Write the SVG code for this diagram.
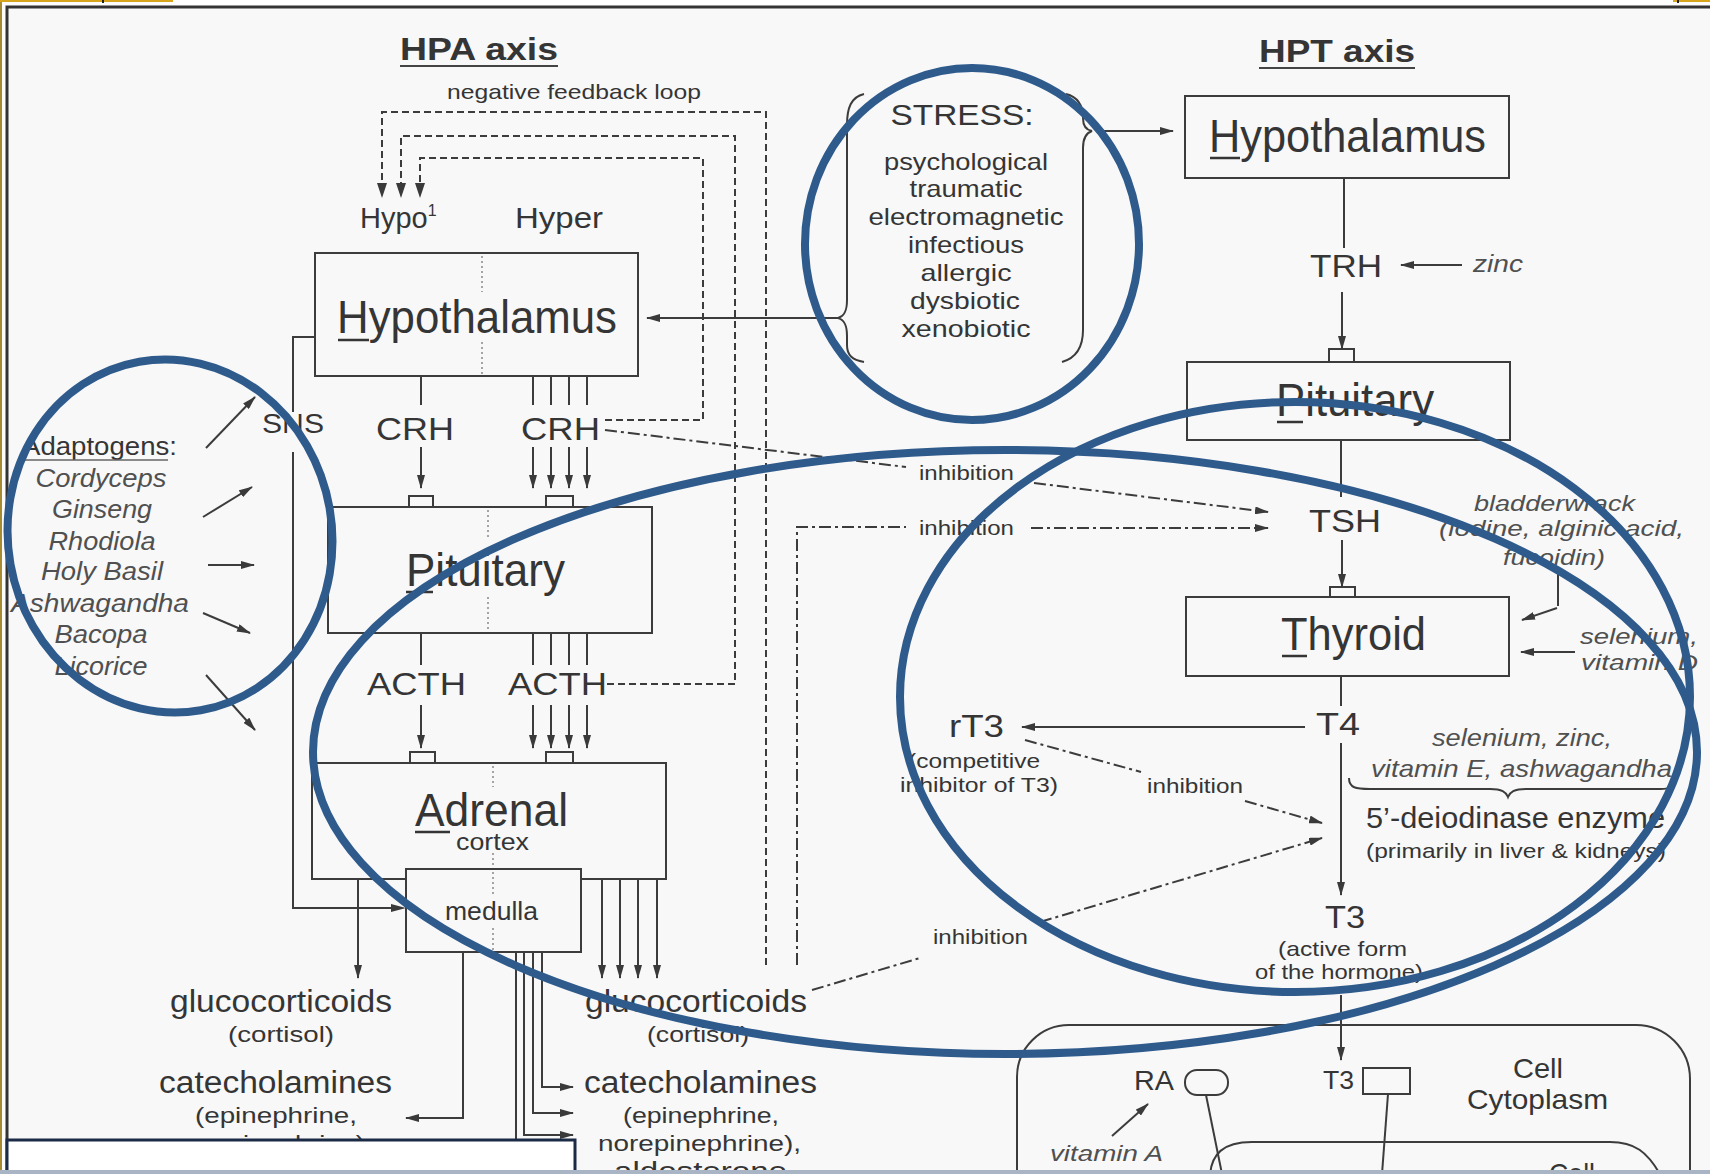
<svg xmlns="http://www.w3.org/2000/svg" width="1710" height="1174" viewBox="0 0 1710 1174">
<defs>
<marker id="ah" viewBox="0 0 14 8" refX="13" refY="4" markerWidth="14" markerHeight="8" markerUnits="userSpaceOnUse" orient="auto"><path d="M0,0 L14,4 L0,8 z" fill="#3a3a3a"/></marker>
</defs>
<style>
.t{font-family:"Liberation Sans",Arial,sans-serif;fill:#353535}
.it{font-style:italic;fill:#505050}
.b{font-weight:bold}
.ln{stroke:#3c3c3c;stroke-width:2;fill:none}
.box{stroke:#3c3c3c;stroke-width:2;fill:#f8f8f8}
.dash{stroke:#3c3c3c;stroke-width:2;fill:none;stroke-dasharray:7 4}
.dd{stroke:#3c3c3c;stroke-width:2;fill:none;stroke-dasharray:12 4 3 4}
.dot{stroke:#777;stroke-width:1.3;stroke-dasharray:2 3;fill:none}
.blue{fill:none;stroke:#2f5b8c;stroke-width:8}
.ar{marker-end:url(#ah)}
</style>
<rect x="0" y="0" width="1710" height="1174" fill="#f8f8f8"/>
<rect x="0" y="0" width="7" height="1174" fill="#fdfdfd"/>
<rect x="0" y="0" width="1710" height="6" fill="#fdfdfd"/>
<rect x="0" y="0" width="2" height="1170" fill="#a88a30"/>
<rect x="0" y="0" width="173" height="2" fill="#d6a51c"/>
<rect x="102" y="0" width="2" height="3" fill="#222"/>
<rect x="1673" y="0" width="37" height="2" fill="#d6a51c"/>
<rect x="1677" y="0" width="2" height="3" fill="#222"/>
<path d="M7,1170 V7 H1710" fill="none" stroke="#333" stroke-width="3"/>

<g id="titles">
<text class="t b" x="400" y="60" font-size="31" textLength="158" lengthAdjust="spacingAndGlyphs">HPA axis</text>
<line x1="400" y1="66" x2="558" y2="66" stroke="#444" stroke-width="2"/>
<text class="t b" x="1259" y="62" font-size="31" textLength="156" lengthAdjust="spacingAndGlyphs">HPT axis</text>
<line x1="1259" y1="68" x2="1415" y2="68" stroke="#444" stroke-width="2"/>
<text class="t" x="447" y="99" font-size="21" textLength="254" lengthAdjust="spacingAndGlyphs">negative feedback loop</text>
<text class="t" x="360" y="228" font-size="29">Hypo<tspan font-size="16" dy="-12">1</tspan></text>
<text class="t" x="515" y="228" font-size="29" textLength="88" lengthAdjust="spacingAndGlyphs">Hyper</text>
</g>

<g id="connectors">
<path class="dash" d="M766,965 V112 H382 V194"/>
<path class="dash" d="M607,684 H735 V136 H401 V194"/>
<path class="dash" d="M605,420 H703 V158 H420 V194"/>
<path d="M377,183 L382,198 L387,183 z M396,183 L401,198 L406,183 z M415,183 L420,198 L425,183 z" fill="#3a3a3a"/>
<path class="ln" d="M315,337 H293 V412 M293,452 V908 H402" />
<path d="M391,904 L406,908 L391,912 z" fill="#3a3a3a"/>
<path class="ln" d="M421,376 V405 M533,376 V405 M551,376 V405 M569,376 V405 M587,376 V405"/>
<path class="ln ar" d="M421,447 V488"/><path class="ln ar" d="M533,447 V488"/><path class="ln ar" d="M551,447 V488"/><path class="ln ar" d="M569,447 V488"/><path class="ln ar" d="M587,447 V488"/>
<path class="ln" d="M421,633 V665 M533,633 V665 M551,633 V665 M569,633 V665 M587,633 V665"/>
<path class="ln ar" d="M421,705 V748"/><path class="ln ar" d="M533,705 V748"/><path class="ln ar" d="M551,705 V748"/><path class="ln ar" d="M569,705 V748"/><path class="ln ar" d="M587,705 V748"/>
<path class="ln ar" d="M358,879 V978"/>
<path class="ln ar" d="M602,879 V978"/><path class="ln ar" d="M620,879 V978"/><path class="ln ar" d="M638,879 V978"/><path class="ln ar" d="M657,879 V978"/>
<path class="ln ar" d="M463,952 V1118 H406"/>
<path class="ln ar" d="M542,952 V1087 H573"/>
<path class="ln ar" d="M533,952 V1113 H573"/>
<path class="ln ar" d="M524,952 V1135 H573"/>
<path class="ln" d="M516,952 V1174"/>
<path class="ln ar" d="M840,318 H647"/>
<path class="ln ar" d="M1096,131 H1173"/>
<path class="ln" d="M864,94 C851,97 847,108 847,125 L847,300 C847,310 845,316 838,318 C845,320 847,326 847,336 L847,345 C847,355 852,360 864,362"/>
<path class="ln" d="M1066,94 C1078,97 1083,106 1083,118 C1083,126 1086,130 1092,131 C1086,133 1083,138 1083,148 L1083,330 C1083,348 1076,358 1062,362"/>
<path class="ln ar" d="M206,448 L255,397" stroke-width="1.8"/>
<path class="ln ar" d="M203,517 L252,487" stroke-width="1.8"/>
<path class="ln ar" d="M208,565 L254,565" stroke-width="1.8"/>
<path class="ln ar" d="M203,613 L250,633" stroke-width="1.8"/>
<path class="ln ar" d="M206,675 L255,730" stroke-width="1.8"/>
<path class="dd" d="M605,430 L906,467"/>
<path class="dd ar" d="M1034,483 L1268,512"/>
<path class="dd" d="M797,965 V527 H906"/>
<path class="dd ar" d="M1031,528 H1268"/>
<path class="dd" d="M1025,740 L1141,772"/>
<path class="dd ar" d="M1245,801 L1322,823"/>
<path class="dd" d="M812,990 L920,958"/>
<path class="dd ar" d="M1040,922 L1322,838"/>
<path class="ln" d="M1344,178 V248"/>
<path class="ln ar" d="M1462,265 H1401"/>
<path class="ln ar" d="M1342,292 V349"/>
<path class="ln" d="M1341,440 V497"/>
<path class="ln ar" d="M1342,540 V587"/>
<path class="ln" d="M1341,676 V706"/>
<path class="ln ar" d="M1305,727 H1022"/>
<path class="ln ar" d="M1341,743 V895"/>
<path class="ln ar" d="M1341,995 V1060"/>
<path class="ln" d="M1558,572 V606"/>
<path class="ln ar" d="M1557,608 L1522,620"/>
<path class="ln ar" d="M1575,652 H1521"/>
<path class="ln" d="M1349,778 C1349,788 1356,789 1370,789 L1490,789 C1502,789 1506,792 1508,797 C1510,792 1514,789 1526,789 L1660,789 C1672,789 1676,786 1676,778"/>
<path class="ln" d="M1206,1095 L1222,1174"/>
<path class="ln" d="M1388,1094 L1382,1174"/>
<path class="ln ar" d="M1112,1136 L1148,1104" stroke-width="1.8"/>
</g>

<g id="hpa-hypothalamus">
<rect class="box" x="315" y="253" width="323" height="123"/>
<path class="dot" d="M482,256 V292 M482,342 V374"/>
<text class="t" x="337" y="333" font-size="46" textLength="280" lengthAdjust="spacingAndGlyphs">Hypothalamus</text>
<line x1="338" y1="340" x2="369" y2="340" stroke="#353535" stroke-width="2.5"/>
</g>
<g id="crh">
<text class="t" x="376" y="440" font-size="32" textLength="78" lengthAdjust="spacingAndGlyphs">CRH</text>
<text class="t" x="521" y="440" font-size="32" textLength="79" lengthAdjust="spacingAndGlyphs">CRH</text>
<text class="t" x="262" y="433" font-size="27" textLength="62" lengthAdjust="spacingAndGlyphs">SNS</text>
</g>
<g id="hpa-pituitary">
<rect class="box" x="409" y="496" width="24" height="11"/>
<rect class="box" x="546" y="496" width="27" height="11"/>
<rect class="box" x="328" y="507" width="324" height="126"/>
<path class="dot" d="M488,510 V540 M488,597 V630"/>
<text class="t" x="406" y="586" font-size="46" textLength="159" lengthAdjust="spacingAndGlyphs">Pituitary</text>
<line x1="406" y1="592" x2="433" y2="592" stroke="#353535" stroke-width="2.5"/>
</g>
<g id="acth">
<text class="t" x="367" y="695" font-size="32" textLength="99" lengthAdjust="spacingAndGlyphs">ACTH</text>
<text class="t" x="508" y="695" font-size="32" textLength="99" lengthAdjust="spacingAndGlyphs">ACTH</text>
</g>
<g id="adrenal">
<rect class="box" x="410" y="752" width="25" height="11"/>
<rect class="box" x="546" y="752" width="27" height="11"/>
<rect class="box" x="312" y="763" width="354" height="116"/>
<path class="dot" d="M493,766 V787 M493,853 V868"/>
<text class="t" x="415" y="826" font-size="46" textLength="153" lengthAdjust="spacingAndGlyphs">Adrenal</text>
<line x1="415" y1="832" x2="450" y2="832" stroke="#353535" stroke-width="2.5"/>
<text class="t" x="456" y="850" font-size="23" textLength="73" lengthAdjust="spacingAndGlyphs">cortex</text>
</g>
<g id="medulla">
<rect class="box" x="406" y="869" width="175" height="83"/>
<path class="dot" d="M493,872 V895 M493,928 V950"/>
<text class="t" x="445" y="920" font-size="26" textLength="93" lengthAdjust="spacingAndGlyphs">medulla</text>
</g>
<g id="outputs">
<text class="t" x="170" y="1012" font-size="31" textLength="222" lengthAdjust="spacingAndGlyphs">glucocorticoids</text>
<text class="t" x="228" y="1042" font-size="22" textLength="106" lengthAdjust="spacingAndGlyphs">(cortisol)</text>
<text class="t" x="585" y="1012" font-size="31" textLength="222" lengthAdjust="spacingAndGlyphs">glucocorticoids</text>
<text class="t" x="647" y="1042" font-size="22" textLength="102" lengthAdjust="spacingAndGlyphs">(cortisol)</text>
<text class="t" x="159" y="1093" font-size="31" textLength="233" lengthAdjust="spacingAndGlyphs">catecholamines</text>
<text class="t" x="195" y="1123" font-size="22" textLength="162" lengthAdjust="spacingAndGlyphs">(epinephrine,</text>
<text class="t" x="173" y="1151" font-size="22" textLength="192" lengthAdjust="spacingAndGlyphs">norepinephrine)</text>
<text class="t" x="584" y="1093" font-size="31" textLength="233" lengthAdjust="spacingAndGlyphs">catecholamines</text>
<text class="t" x="623" y="1123" font-size="22" textLength="156" lengthAdjust="spacingAndGlyphs">(epinephrine,</text>
<text class="t" x="598" y="1151" font-size="22" textLength="203" lengthAdjust="spacingAndGlyphs">norepinephrine),</text>
<text class="t" x="614" y="1180" font-size="26" textLength="173" lengthAdjust="spacingAndGlyphs">aldosterone</text>
</g>
<g id="adaptogens">
<text class="t" x="22" y="455" font-size="25" textLength="155" lengthAdjust="spacingAndGlyphs" fill="#555">Adaptogens:</text>
<line x1="22" y1="460" x2="168" y2="460" stroke="#666" stroke-width="1.5"/>
<text class="t it" x="101" y="487" font-size="25" text-anchor="middle" textLength="131" lengthAdjust="spacingAndGlyphs">Cordyceps</text>
<text class="t it" x="102" y="518" font-size="25" text-anchor="middle" textLength="100" lengthAdjust="spacingAndGlyphs">Ginseng</text>
<text class="t it" x="102" y="550" font-size="25" text-anchor="middle" textLength="107" lengthAdjust="spacingAndGlyphs">Rhodiola</text>
<text class="t it" x="102" y="580" font-size="25" text-anchor="middle" textLength="122" lengthAdjust="spacingAndGlyphs">Holy Basil</text>
<text class="t it" x="100" y="612" font-size="25" text-anchor="middle" textLength="178" lengthAdjust="spacingAndGlyphs">Ashwagandha</text>
<text class="t it" x="101" y="643" font-size="25" text-anchor="middle" textLength="93" lengthAdjust="spacingAndGlyphs">Bacopa</text>
<text class="t it" x="101" y="675" font-size="25" text-anchor="middle" textLength="93" lengthAdjust="spacingAndGlyphs">Licorice</text>
</g>
<g id="stress">
<text class="t" x="962" y="125" font-size="30" text-anchor="middle" textLength="143" lengthAdjust="spacingAndGlyphs">STRESS:</text>
<text class="t" x="966" y="170" font-size="24" text-anchor="middle" textLength="164" lengthAdjust="spacingAndGlyphs">psychological</text>
<text class="t" x="966" y="197" font-size="24" text-anchor="middle" textLength="113" lengthAdjust="spacingAndGlyphs">traumatic</text>
<text class="t" x="966" y="225" font-size="24" text-anchor="middle" textLength="195" lengthAdjust="spacingAndGlyphs">electromagnetic</text>
<text class="t" x="966" y="253" font-size="24" text-anchor="middle" textLength="116" lengthAdjust="spacingAndGlyphs">infectious</text>
<text class="t" x="966" y="281" font-size="24" text-anchor="middle" textLength="91" lengthAdjust="spacingAndGlyphs">allergic</text>
<text class="t" x="965" y="309" font-size="24" text-anchor="middle" textLength="110" lengthAdjust="spacingAndGlyphs">dysbiotic</text>
<text class="t" x="966" y="337" font-size="24" text-anchor="middle" textLength="129" lengthAdjust="spacingAndGlyphs">xenobiotic</text>
</g>
<g id="inhibition-labels">
<text class="t" x="919" y="480" font-size="21" textLength="95" lengthAdjust="spacingAndGlyphs">inhibition</text>
<text class="t" x="919" y="535" font-size="21" textLength="95" lengthAdjust="spacingAndGlyphs">inhibition</text>
<text class="t" x="1147" y="793" font-size="21" textLength="96" lengthAdjust="spacingAndGlyphs">inhibition</text>
<text class="t" x="933" y="944" font-size="21" textLength="95" lengthAdjust="spacingAndGlyphs">inhibition</text>
</g>
<g id="hpt-hypothalamus">
<rect class="box" x="1185" y="96" width="324" height="82"/>
<text class="t" x="1209" y="152" font-size="46" textLength="277" lengthAdjust="spacingAndGlyphs">Hypothalamus</text>
<line x1="1210" y1="158" x2="1240" y2="158" stroke="#353535" stroke-width="2.5"/>
</g>
<g id="trh">
<text class="t" x="1310" y="277" font-size="32" textLength="72" lengthAdjust="spacingAndGlyphs">TRH</text>
<text class="t it" x="1473" y="272" font-size="24" textLength="50" lengthAdjust="spacingAndGlyphs">zinc</text>
</g>
<g id="hpt-pituitary">
<rect class="box" x="1329" y="349" width="25" height="13"/>
<rect class="box" x="1187" y="362" width="323" height="78"/>
<text class="t" x="1276" y="416" font-size="46" textLength="158" lengthAdjust="spacingAndGlyphs">Pituitary</text>
<line x1="1277" y1="422" x2="1303" y2="422" stroke="#353535" stroke-width="2.5"/>
</g>
<g id="tsh">
<text class="t" x="1309" y="532" font-size="32" textLength="72" lengthAdjust="spacingAndGlyphs">TSH</text>
<text class="t it" x="1474" y="511" font-size="22" textLength="161" lengthAdjust="spacingAndGlyphs">bladderwrack</text>
<text class="t it" x="1439" y="536" font-size="22" textLength="245" lengthAdjust="spacingAndGlyphs">(iodine, alginic acid,</text>
<text class="t it" x="1503" y="565" font-size="22" textLength="102" lengthAdjust="spacingAndGlyphs">fucoidin)</text>
</g>
<g id="thyroid">
<rect class="box" x="1330" y="587" width="25" height="10"/>
<rect class="box" x="1186" y="597" width="323" height="79"/>
<text class="t" x="1281" y="650" font-size="46" textLength="145" lengthAdjust="spacingAndGlyphs">Thyroid</text>
<line x1="1282" y1="656" x2="1307" y2="656" stroke="#353535" stroke-width="2.5"/>
<text class="t it" x="1580" y="644" font-size="22" textLength="118" lengthAdjust="spacingAndGlyphs">selenium,</text>
<text class="t it" x="1581" y="670" font-size="22" textLength="117" lengthAdjust="spacingAndGlyphs">vitamin D</text>
</g>
<g id="t4">
<text class="t" x="1316" y="735" font-size="32" textLength="44" lengthAdjust="spacingAndGlyphs">T4</text>
</g>
<g id="rt3">
<text class="t" x="949" y="737" font-size="32" textLength="55" lengthAdjust="spacingAndGlyphs">rT3</text>
<text class="t" x="908" y="768" font-size="21" textLength="132" lengthAdjust="spacingAndGlyphs">(competitive</text>
<text class="t" x="900" y="792" font-size="21" textLength="158" lengthAdjust="spacingAndGlyphs">inhibitor of T3)</text>
</g>
<g id="deiodinase">
<text class="t it" x="1432" y="746" font-size="24" textLength="180" lengthAdjust="spacingAndGlyphs">selenium, zinc,</text>
<text class="t it" x="1371" y="777" font-size="24" textLength="301" lengthAdjust="spacingAndGlyphs">vitamin E, ashwagandha</text>
<text class="t" x="1366" y="828" font-size="29" textLength="299" lengthAdjust="spacingAndGlyphs">5’-deiodinase enzyme</text>
<text class="t" x="1366" y="858" font-size="21" textLength="300" lengthAdjust="spacingAndGlyphs">(primarily in liver &amp; kidneys)</text>
</g>
<g id="t3">
<text class="t" x="1325" y="928" font-size="32" textLength="40" lengthAdjust="spacingAndGlyphs">T3</text>
<text class="t" x="1278" y="956" font-size="21" textLength="129" lengthAdjust="spacingAndGlyphs">(active form</text>
<text class="t" x="1255" y="979" font-size="21" textLength="168" lengthAdjust="spacingAndGlyphs">of the hormone)</text>
</g>
<g id="cell">
<path class="ln" d="M1017,1174 V1077 A52,52 0 0 1 1069,1025 H1636 A54,54 0 0 1 1690,1079 V1174"/>
<path class="ln" d="M1210,1174 C1212,1155 1222,1142 1252,1142 H1610 C1635,1142 1647,1152 1660,1174"/>
<text class="t" x="1134" y="1090" font-size="27" textLength="40" lengthAdjust="spacingAndGlyphs">RA</text>
<rect class="box" x="1185" y="1070" width="43" height="25" rx="12"/>
<text class="t it" x="1050" y="1161" font-size="22" textLength="113" lengthAdjust="spacingAndGlyphs">vitamin A</text>
<text class="t" x="1323" y="1089" font-size="25" textLength="31" lengthAdjust="spacingAndGlyphs">T3</text>
<rect class="box" x="1363" y="1068" width="47" height="26"/>
<text class="t" x="1513" y="1078" font-size="28" textLength="50" lengthAdjust="spacingAndGlyphs">Cell</text>
<text class="t" x="1467" y="1109" font-size="28" textLength="141" lengthAdjust="spacingAndGlyphs">Cytoplasm</text>
<text class="t" x="1549" y="1183" font-size="28" textLength="46" lengthAdjust="spacingAndGlyphs">Cell</text>
</g>

<g id="highlights">
<ellipse class="blue" cx="170" cy="536" rx="162" ry="177" transform="rotate(-10 170 536)"/>
<ellipse class="blue" cx="972" cy="244" rx="167" ry="176"/>
<ellipse class="blue" cx="1005" cy="752" rx="692" ry="302"/>
<ellipse class="blue" cx="1295" cy="697" rx="395" ry="295"/>
</g>

<rect x="7" y="1140" width="568" height="34" fill="#ffffff" stroke="#1c2b45" stroke-width="3"/>
<rect x="0" y="1170" width="1710" height="4" fill="#a9b4c4"/>
</svg>
